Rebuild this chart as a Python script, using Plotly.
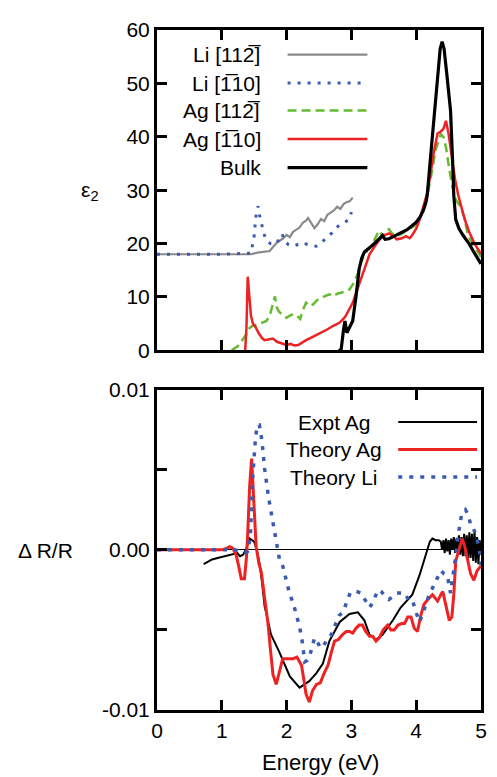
import plotly.graph_objects as go
from plotly.subplots import make_subplots

# ---------------- top panel: epsilon_2 ----------------
li112_E = [0, 0.5, 1.0, 1.45, 1.55, 1.65, 1.74, 1.80, 1.86, 1.94, 2.00, 2.05, 2.10, 2.15, 2.20, 2.25, 2.30, 2.33, 2.38, 2.43, 2.48, 2.53, 2.58, 2.63, 2.68, 2.73, 2.78, 2.83, 2.88, 2.93, 2.97, 3.02]
li112 = [18, 18, 18, 18, 18.3, 18.5, 18.6, 19.5, 20.3, 20.9, 21.6, 21.2, 22.2, 22.6, 23.0, 23.9, 24.3, 24.8, 23.8, 22.9, 23.6, 24.6, 24.2, 25.4, 25.8, 26.2, 26.9, 26.5, 27.4, 27.8, 27.9, 28.6]

li110_E = [0, 0.5, 1.0, 1.45, 1.50, 1.53, 1.56, 1.58, 1.61, 1.65, 1.69, 1.75, 1.84, 1.90, 1.93, 1.97, 2.03, 2.10, 2.18, 2.25, 2.32, 2.40, 2.46, 2.52, 2.58, 2.63, 2.70, 2.76, 2.82, 2.88, 2.94, 2.97, 3.00]
li110 = [18, 18, 18, 18.2, 21.5, 25.5, 27.0, 25.5, 23.9, 21.8, 20.5, 20.0, 19.9, 21.0, 21.8, 20.4, 19.8, 19.5, 19.9, 20.2, 19.8, 19.6, 19.5, 20.0, 20.7, 21.2, 22.0, 22.9, 23.5, 23.8, 24.4, 24.6, 25.9]

ag112_E = [1.15, 1.25, 1.32, 1.38, 1.43, 1.48, 1.55, 1.62, 1.69, 1.74, 1.78, 1.82, 1.85, 1.88, 1.94, 2.00, 2.06, 2.12, 2.15, 2.18, 2.21, 2.25, 2.30, 2.36, 2.41, 2.47, 2.53, 2.60, 2.66, 2.72, 2.78, 2.84, 2.90, 2.97, 3.03, 3.10, 3.15, 3.20, 3.25, 3.30, 3.35, 3.40, 3.44, 3.48, 3.53, 3.58, 3.63, 3.68, 3.73, 3.78, 3.84, 3.90, 3.96, 4.02, 4.08, 4.13, 4.18, 4.22, 4.26, 4.30, 4.34, 4.38, 4.42, 4.46, 4.51, 4.56, 4.62, 4.68, 4.74, 4.80, 4.87, 4.93, 5.0]
ag112 = [0, 0.8, 2.0, 3.0, 4.2, 4.6, 4.8, 5.2, 5.5, 6.5, 8.5, 10.1, 8.0, 7.3, 6.6, 6.1, 6.6, 6.8, 6.6, 6.3, 5.9, 7.5, 8.9, 8.3, 8.6, 9.4, 9.8, 10.2, 10.5, 10.1, 10.6, 10.8, 11.0, 11.4, 12.5, 14.4, 16.5, 17.8, 18.8, 19.5, 20.5, 21.8, 22.4, 21.2, 22.3, 22.7, 21.8, 22.0, 21.6, 21.8, 22.4, 22.8, 23.2, 23.8, 25.5, 27.5, 29.5, 32.0, 35.0, 37.5, 39.0, 40.5, 40.0, 38.0, 34.0, 30.5, 28.0, 27.0, 25.0, 21.5, 20.0, 18.8, 17.5]

ag110_E = [1.36, 1.38, 1.40, 1.42, 1.45, 1.48, 1.52, 1.57, 1.62, 1.66, 1.72, 1.79, 1.85, 1.92, 2.00, 2.06, 2.12, 2.18, 2.24, 2.30, 2.38, 2.46, 2.56, 2.64, 2.72, 2.82, 2.90, 2.96, 3.02, 3.08, 3.13, 3.17, 3.22, 3.28, 3.35, 3.43, 3.50, 3.58, 3.64, 3.70, 3.78, 3.84, 3.90, 3.94, 4.00, 4.05, 4.10, 4.17, 4.22, 4.27, 4.33, 4.38, 4.42, 4.46, 4.50, 4.55, 4.60, 4.65, 4.69, 4.75, 4.82, 4.90, 5.0]
ag110 = [0, 4.0, 13.8, 10.0, 6.5, 5.0, 4.4, 3.2, 2.3, 1.9, 2.0, 2.2, 1.6, 1.3, 1.0, 1.2, 0.9, 1.0, 1.5, 1.9, 2.4, 2.9, 3.4, 4.0, 4.6, 5.2, 6.2, 7.5, 8.9, 11.0, 12.8, 14.1, 16.0, 18.0, 19.3, 20.7, 21.5, 21.9, 21.5, 20.8, 21.0, 21.4, 21.0, 21.6, 22.8, 24.4, 26.5, 29.5, 33.0, 37.0, 40.6, 41.0, 41.5, 43.0, 40.5, 36.0, 32.0, 29.0, 27.0, 24.5, 22.1, 20.0, 18.1]

bulk_E = [2.80, 2.84, 2.88, 2.90, 2.93, 2.97, 3.02, 3.07, 3.12, 3.16, 3.20, 3.28, 3.34, 3.38, 3.44, 3.48, 3.52, 3.58, 3.66, 3.72, 3.78, 3.86, 3.94, 4.00, 4.06, 4.11, 4.15, 4.17, 4.22, 4.28, 4.33, 4.37, 4.40, 4.43, 4.47, 4.53, 4.56, 4.58, 4.61, 4.66, 4.72, 4.82, 4.90, 5.0]
bulk = [0, 0, 4.0, 5.5, 3.3, 4.2, 5.5, 10.0, 15.3, 17.3, 18.4, 19.2, 19.8, 20.3, 21.0, 21.5, 20.8, 20.9, 21.4, 21.8, 22.1, 22.6, 23.4, 24.0, 25.0, 26.2, 27.7, 29.0, 36.0, 44.9, 52.0, 56.5, 57.8, 56.5, 52.0, 44.9, 36.0, 29.0, 24.5, 22.8, 21.6, 19.9, 18.2, 16.2]

# ---------------- bottom panel: Delta R / R ----------------
expt_E = [0.72, 0.76, 0.85, 0.95, 1.05, 1.17, 1.24, 1.28, 1.33, 1.38, 1.43, 1.47, 1.50, 1.54, 1.58, 1.62, 1.66, 1.76, 1.89, 2.05, 2.20, 2.35, 2.46, 2.56, 2.66, 2.82, 2.97, 3.10, 3.20, 3.28, 3.38, 3.48, 3.64, 3.76, 3.94, 4.05, 4.15, 4.21, 4.25, 4.30, 4.35,
          4.38, 4.40, 4.42, 4.44, 4.46, 4.48, 4.50, 4.52, 4.54, 4.56, 4.58, 4.60, 4.62, 4.64, 4.66, 4.68, 4.70, 4.72, 4.74, 4.76, 4.78, 4.80, 4.82, 4.84, 4.86, 4.88, 4.90, 4.92, 4.94, 4.96, 4.98, 5.0]
expt = [-0.0009, -0.0008, -0.0006, -0.0005, -0.0004, -0.0003, -0.0002, -0.0004, -0.0003, 0.0001, 0.0007, 0.0006, 0.0005, 0.0000, -0.0008, -0.0020, -0.0035, -0.0053, -0.0064, -0.0079, -0.0086, -0.0082, -0.0077, -0.0071, -0.0057, -0.0045, -0.0040, -0.0039, -0.0044, -0.0053, -0.0056, -0.0053, -0.0044, -0.0036, -0.0028, -0.0016, -0.0002, 0.0005, 0.0007, 0.0006, 0.0006,
        0.0005, 0.0000, 0.0006, -0.0002, 0.0007, -0.0001, 0.0006, -0.0003, 0.0007, 0.0000, 0.0008, -0.0002, 0.0007, -0.0001, 0.0009, -0.0003, 0.0008, -0.0004, 0.0010, -0.0004, 0.0009, -0.0006, 0.0011, -0.0005, 0.0010, -0.0007, 0.0012, -0.0008, 0.0008, -0.0009, 0.0006, -0.0003]

thag_E = [0, 0.5, 1.0, 1.08, 1.12, 1.17, 1.22, 1.26, 1.30, 1.35, 1.38, 1.40, 1.43, 1.46, 1.49, 1.53, 1.57, 1.61, 1.66, 1.71, 1.75, 1.79, 1.84, 1.88, 1.94, 2.02, 2.10, 2.16, 2.23, 2.27, 2.30, 2.35, 2.40, 2.46, 2.52, 2.58, 2.64, 2.69, 2.74, 2.80, 2.86, 2.92, 2.97, 3.02, 3.07, 3.12, 3.17, 3.22, 3.28, 3.33, 3.38, 3.43, 3.49, 3.56, 3.61, 3.66, 3.72, 3.78, 3.82, 3.87, 3.92, 3.97, 4.02, 4.07, 4.12, 4.18, 4.25, 4.29, 4.33, 4.38, 4.41, 4.46, 4.51, 4.55, 4.58, 4.61, 4.66, 4.71, 4.75, 4.80, 4.84, 4.89, 4.94, 5.0]
thag = [0, 0, 0, 0.0001, 0.0002, 0.0001, -0.0003, -0.0010, -0.0018, -0.0018, -0.0005, 0.0010, 0.0040, 0.0057, 0.0035, 0.0002, -0.0008, -0.0014, -0.0030, -0.0045, -0.0062, -0.0078, -0.0084, -0.0078, -0.0068, -0.0068, -0.0068, -0.0067, -0.0072, -0.0082, -0.0090, -0.0095, -0.0088, -0.0084, -0.0083, -0.0077, -0.0072, -0.0064, -0.0057, -0.0056, -0.0053, -0.0051, -0.0051, -0.0052, -0.0049, -0.0047, -0.0047, -0.0051, -0.0054, -0.0054, -0.0057, -0.0055, -0.0050, -0.0047, -0.0050, -0.0050, -0.0047, -0.0046, -0.0046, -0.0042, -0.0042, -0.0049, -0.0051, -0.0041, -0.0034, -0.0031, -0.0028, -0.0030, -0.0032, -0.0028, -0.0026, -0.0035, -0.0044, -0.0042, -0.0028, -0.0007, 0.0000, 0.0007, 0.0002, -0.0008, -0.0015, -0.0019, -0.0013, -0.0010]

thli_E = [0, 0.5, 1.0, 1.2, 1.28, 1.35, 1.40, 1.44, 1.48, 1.52, 1.55, 1.58, 1.62, 1.66, 1.72, 1.79, 1.85, 1.89, 1.94, 2.00, 2.05, 2.10, 2.15, 2.20, 2.24, 2.28, 2.32, 2.35, 2.40, 2.43, 2.48, 2.52, 2.56, 2.62, 2.69, 2.75, 2.81, 2.87, 2.93, 2.98, 3.02, 3.08, 3.15, 3.20, 3.25, 3.28, 3.33, 3.38, 3.42, 3.46, 3.52, 3.58, 3.64, 3.70, 3.76, 3.82, 3.88, 3.94, 3.99, 4.05, 4.10, 4.15, 4.20, 4.25, 4.31, 4.38, 4.43, 4.48, 4.53, 4.57, 4.61, 4.65, 4.70, 4.76, 4.80, 4.84, 4.87, 4.92, 4.97, 5.0]
thli = [0, 0, 0, 0, -0.0001, -0.0002, -0.0001, 0.0008, 0.0047, 0.0070, 0.0078, 0.0078, 0.0068, 0.0051, 0.0033, 0.0016, 0.0003, -0.0006, -0.0010, -0.0019, -0.0028, -0.0033, -0.0040, -0.0048, -0.0057, -0.0070, -0.0069, -0.0067, -0.0060, -0.0055, -0.0058, -0.0061, -0.0061, -0.0056, -0.0053, -0.0047, -0.0041, -0.0039, -0.0032, -0.0027, -0.0026, -0.0026, -0.0027, -0.0031, -0.0034, -0.0036, -0.0033, -0.0028, -0.0025, -0.0026, -0.0029, -0.0031, -0.0029, -0.0027, -0.0027, -0.0027, -0.0031, -0.0031, -0.0038, -0.0045, -0.0040, -0.0034, -0.0028, -0.0024, -0.0019, -0.0013, -0.0015, -0.0016, -0.0027, -0.0016, -0.0004, 0.0010, 0.0022, 0.0025, 0.0022, 0.0016, 0.0015, 0.0009, 0.0002, -0.0010]

x_ticks = [0, 1, 2, 3, 4, 5]
top_y_ticks = [0, 10, 20, 30, 40, 50, 60]
bot_y_ticks = [-0.01, -0.005, 0.0, 0.005, 0.01]
bot_y_text = ["-0.01", " ", "0.00", " ", "0.01"]

top_names = ["Li [112\u0305]", "Li [1\u030510]", "Ag [112\u0305]", "Ag [1\u030510]", "Bulk"]
bot_names = ["Expt Ag", "Theory Ag", "Theory Li"]

# ---------------- figure ----------------
OFF = 8                                  # default page body margin
L, R, T, B = 157, 482, 18, 710           # plot frame in window pixels
W, H = 489, 769
FONT = "Liberation Sans, Arial, Helvetica, sans-serif"

GRAY = "#8a8a8a"
BLUE = "#3a5bb0"
GREEN = "#66bb33"
RED = "#ee2222"
BLACK = "black"

fig = make_subplots(rows=2, cols=1, vertical_spacing=40.0 / (B - T),
                    row_heights=[326, 326])

top_styles = [
    (li112_E, li112, dict(color=GRAY, width=2.2)),
    (li110_E, li110, dict(color=BLUE, width=3, dash="3px,7px")),
    (ag112_E, ag112, dict(color=GREEN, width=2.5, dash="9px,5px")),
    (ag110_E, ag110, dict(color=RED, width=2.5)),
    (bulk_E, bulk, dict(color=BLACK, width=3.2)),
]
for (xs, ys, ln), nm in zip(top_styles, top_names):
    assert len(xs) == len(ys), nm
    fig.add_trace(go.Scatter(x=xs, y=ys, mode="lines", line=ln, name=nm,
                             showlegend=False), row=1, col=1)

bot_styles = [
    (expt_E, expt, dict(color=BLACK, width=2)),
    (thag_E, thag, dict(color=RED, width=3)),
    (thli_E, thli, dict(color=BLUE, width=3.5, dash="4px,7px")),
]
for (xs, ys, ln), nm in zip(bot_styles, bot_names):
    assert len(xs) == len(ys), nm
    fig.add_trace(go.Scatter(x=xs, y=ys, mode="lines", line=ln, name=nm,
                             showlegend=False), row=2, col=1)

def px(p):
    return (p - L) / (R - L)

def py(p):
    return (B - p) / (B - T)

fig.update_xaxes(showline=True, linewidth=3, linecolor="#000000", mirror="ticks",
                 ticks="inside", ticklen=10, tickwidth=3, tickcolor="#000000",
                 showgrid=False, zeroline=False, range=[0, 5], tickvals=x_ticks,
                 tickfont=dict(family=FONT, size=21, color="#000000"))
fig.update_yaxes(showline=True, linewidth=3, linecolor="#000000", mirror="ticks",
                 ticks="inside", ticklen=10, tickwidth=3, tickcolor="#000000",
                 showgrid=False, zeroline=False,
                 tickfont=dict(family=FONT, size=21, color="#000000"))
fig.update_xaxes(showticklabels=False, row=1, col=1)
fig.update_yaxes(range=[0, 60], tickvals=top_y_ticks, row=1, col=1)
fig.update_yaxes(range=[-0.01, 0.01], tickvals=bot_y_ticks, ticktext=bot_y_text,
                 zeroline=True, zerolinecolor="#000000", zerolinewidth=1.2, row=2, col=1)

fig.update_layout(
    width=W, height=H,
    margin=dict(l=L - OFF, r=W - (R - OFF), t=T - OFF, b=H - (B - OFF), pad=0),
    paper_bgcolor="white", plot_bgcolor="white",
    font=dict(family=FONT, size=21, color="#000000"),
)

annotations = []
shapes = []

# top legend
top_rows = [43, 72, 100, 129, 158]
for (xs, ys, ln), nm, ry in zip(top_styles, top_names, top_rows):
    annotations.append(dict(x=px(263), y=py(ry), xref="paper", yref="paper",
                            text=nm, showarrow=False, xanchor="right", yanchor="middle",
                            font=dict(family=FONT, size=21, color="#000000")))
    shapes.append(dict(type="line", xref="paper", yref="paper",
                       x0=px(288), x1=px(368), y0=py(ry), y1=py(ry), line=ln))

# bottom legend
bot_rows = [417, 445, 473]
for (xs, ys, ln), nm, ry in zip(bot_styles, bot_names, bot_rows):
    annotations.append(dict(x=px(335), y=py(ry), xref="paper", yref="paper",
                            text=nm, showarrow=False, xanchor="center", yanchor="middle",
                            font=dict(family=FONT, size=21, color="#000000")))
    shapes.append(dict(type="line", xref="paper", yref="paper",
                       x0=px(399), x1=px(478), y0=py(ry), y1=py(ry), line=ln))

# axis titles
annotations.append(dict(x=px(90), y=py(182), xref="paper", yref="paper",
                        text="\u03b5<sub>2</sub>", showarrow=False,
                        xanchor="center", yanchor="middle",
                        font=dict(family=FONT, size=21, color="#000000")))
annotations.append(dict(x=px(45), y=py(548), xref="paper", yref="paper",
                        text="\u0394 R/R", showarrow=False,
                        xanchor="center", yanchor="middle",
                        font=dict(family=FONT, size=21, color="#000000")))
annotations.append(dict(x=px(321), y=py(763), xref="paper", yref="paper",
                        text="Energy (eV)", showarrow=False,
                        xanchor="center", yanchor="middle",
                        font=dict(family=FONT, size=22, color="#000000")))

fig.update_layout(annotations=annotations, shapes=shapes)
fig.write_html("out.html", config={"displayModeBar": False})
